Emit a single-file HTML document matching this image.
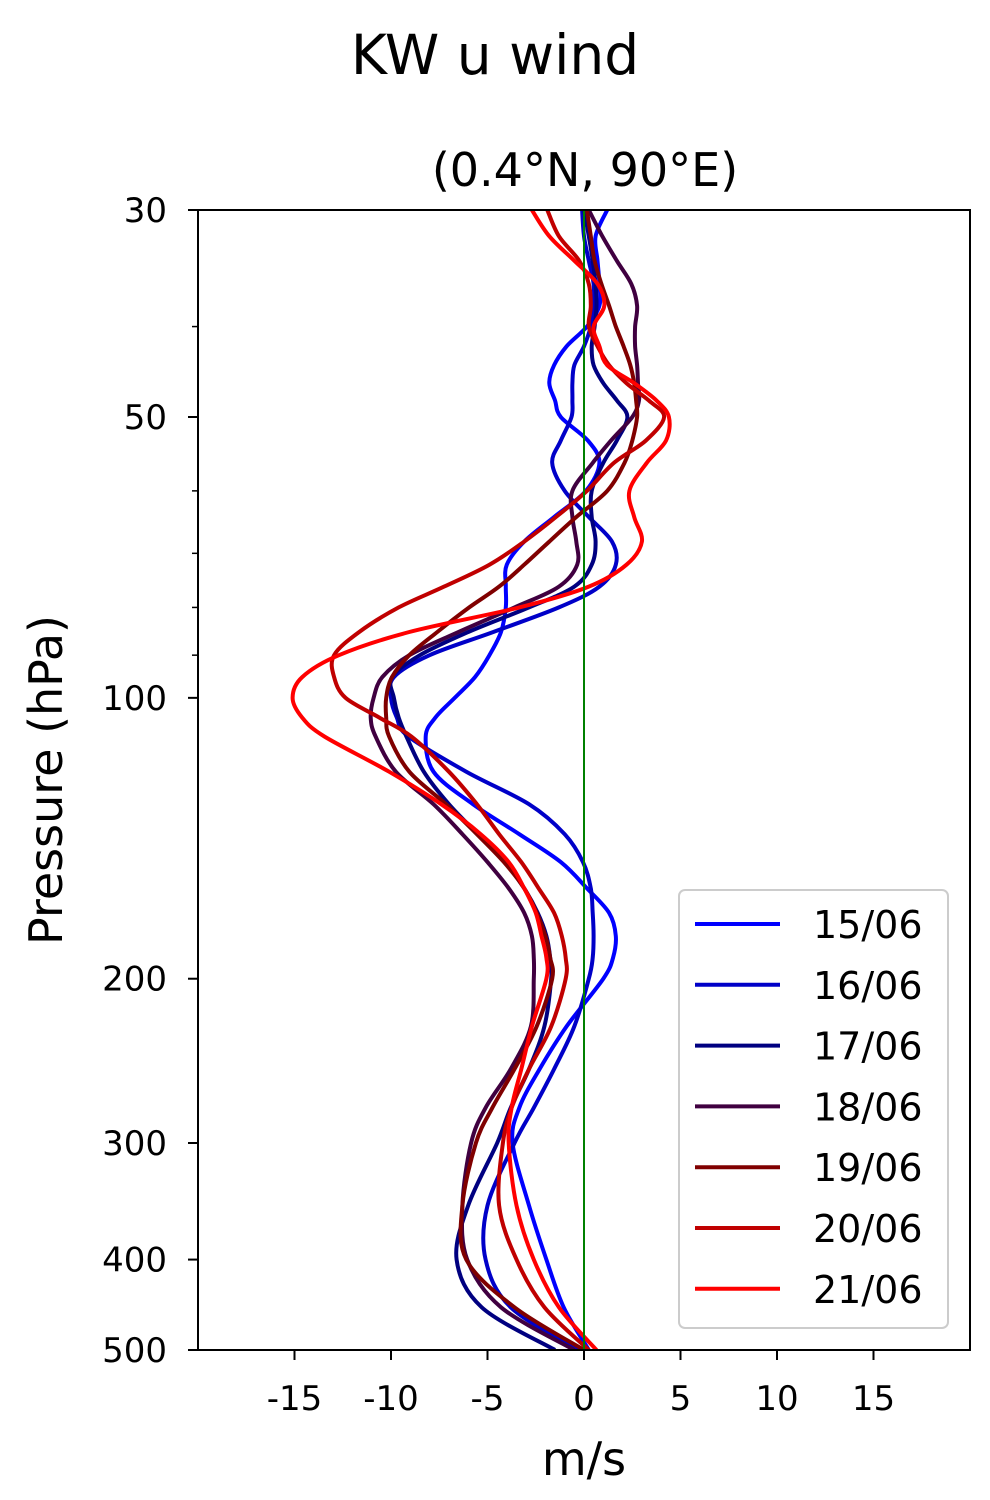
<!DOCTYPE html>
<html><head><meta charset="utf-8"><style>
html,body{margin:0;padding:0;background:#fff;}
svg{display:block;font-family:"DejaVu Sans","Liberation Sans",sans-serif;}
</style></head><body>
<svg id="chart" width="990" height="1500" viewBox="0 0 990 1500" xmlns="http://www.w3.org/2000/svg">
<rect width="990" height="1500" fill="#fff"/>
<text x="495" y="74" font-size="55" text-anchor="middle">KW u wind</text>
<text x="585" y="186" font-size="46" text-anchor="middle">(0.4°N, 90°E)</text>
<text transform="translate(62,780) rotate(-90)" font-size="46" text-anchor="middle">Pressure (hPa)</text>
<text x="584" y="1475" font-size="46" text-anchor="middle">m/s</text>
<g id="plot"></g>
</svg>
<script>
const pressures=[30,32,34,36,38,40,42,44,46,48,50,53,56,60,64,68,72,76,80,85,90,95,100,105,110,120,130,140,150,160,170,180,190,200,225,250,275,300,350,400,450,500];
const dates=["15/06","16/06","17/06","18/06","19/06","20/06","21/06"];
const u1506=[1.2,0.6,0.7,0.8,0.8,0.15,-0.9,-1.55,-1.8,-1.5,-1.2,0.2,0.8,0.1,-1.55,-3.1,-4.0,-4.05,-4.05,-4.3,-4.9,-5.65,-6.7,-7.7,-8.2,-7.8,-5.75,-3.35,-1.2,0.15,1.3,1.65,1.5,1.0,-0.9,-2.3,-3.35,-3.7,-2.85,-1.95,-1.05,0.25];
const u1606=[-0.1,0,0.25,0.5,0.5,0.35,0,-0.5,-0.6,-0.6,-0.65,-1.2,-1.65,-1.0,0.25,1.45,1.65,0.8,-1.3,-4.7,-8.0,-9.85,-10.0,-9.7,-9.1,-6.1,-2.85,-1.0,-0.05,0.35,0.45,0.5,0.45,0.25,-0.5,-1.55,-2.6,-3.6,-5.0,-5.1,-3.8,-0.25];
const u1706=[0,0.25,0.45,0.6,0.65,0.55,0.4,0.5,1.0,1.7,2.25,1.7,1.0,0.4,0.4,0.6,0.4,-0.5,-2.85,-6.0,-8.5,-9.95,-9.85,-9.6,-9.2,-8.3,-7.0,-5.5,-4.1,-3.1,-2.4,-1.95,-1.75,-1.7,-2.05,-2.85,-3.8,-4.5,-6.0,-6.6,-5.3,-1.5];
const u1806=[0.25,0.95,1.7,2.45,2.75,2.65,2.65,2.75,2.8,2.85,2.5,1.4,0.45,-0.6,-0.6,-0.4,-0.35,-1.3,-3.6,-6.5,-9.05,-10.45,-10.9,-11.05,-10.8,-9.75,-7.8,-6.3,-5.0,-3.9,-3.1,-2.7,-2.6,-2.6,-2.75,-3.8,-5.1,-5.85,-6.3,-6.05,-4.3,-0.5];
const u1906=[0.15,0.35,0.55,0.9,1.3,1.65,2.05,2.4,2.6,2.7,2.75,2.5,2.1,1.2,-0.4,-1.8,-3.1,-4.4,-5.95,-7.6,-9.05,-9.95,-10.25,-10.25,-10.1,-9.05,-7.15,-5.55,-4.15,-3.1,-2.45,-2.0,-1.75,-1.65,-2.45,-3.6,-4.75,-5.6,-6.3,-6.1,-3.6,0];
const u2006=[-1.9,-1.3,-0.25,0.25,0.35,0.25,0.7,1.3,2.2,3.35,4.15,3.2,1.55,0.15,-1.45,-3.1,-4.9,-7.25,-9.6,-11.65,-12.95,-12.95,-12.35,-10.6,-8.95,-7.0,-5.55,-4.4,-3.25,-2.35,-1.55,-1.15,-0.95,-0.95,-1.7,-2.85,-3.75,-4.2,-4.4,-3.5,-2.05,0.25];
const u2106=[-2.7,-1.8,-0.5,0.7,1.05,0.5,0.8,1.2,2.6,3.75,4.4,4.25,3.25,2.35,2.6,3.0,2.2,0.25,-3.35,-9.05,-12.7,-14.6,-15.1,-14.6,-13.45,-10.1,-7.4,-5.35,-3.9,-3.1,-2.5,-2.2,-1.95,-1.95,-2.7,-3.25,-3.75,-3.9,-3.5,-2.6,-1.3,0.65];
const xTicks=[-15,-10,-5,0,5,10,15];
const yMajorTicks=[30,50,100,200,300,400,500];
const yMinorTicks=[40,60,70,80,90];

const series=[u1506,u1606,u1706,u1806,u1906,u2006,u2106];
const colors=["#0000ff","#0000c8","#000080","#400040","#800000","#c00000","#ff0000"];
const L=198,R=970,T=210,B=1350;
const xMin=-20,xMax=20,pTop=30,pBot=500;
function xs(v){return L+(v-xMin)/(xMax-xMin)*(R-L);}
function ys(p){return T+Math.log10(p/pTop)/Math.log10(pBot/pTop)*(B-T);}
const NS="http://www.w3.org/2000/svg";
const g=document.getElementById('plot');
function mk(tag,attrs,parent){const e=document.createElementNS(NS,tag);for(const k in attrs)e.setAttribute(k,attrs[k]);(parent||g).appendChild(e);return e;}
function smoothPath(pts){
  let d='M'+pts[0][0].toFixed(1)+' '+pts[0][1].toFixed(1);
  for(let i=0;i<pts.length-1;i++){
    const p0=pts[Math.max(0,i-1)],p1=pts[i],p2=pts[i+1],p3=pts[Math.min(pts.length-1,i+2)];
    const c1=[p1[0]+(p2[0]-p0[0])/6,p1[1]+(p2[1]-p0[1])/6];
    const c2=[p2[0]-(p3[0]-p1[0])/6,p2[1]-(p3[1]-p1[1])/6];
    d+=' C'+c1[0].toFixed(1)+' '+c1[1].toFixed(1)+' '+c2[0].toFixed(1)+' '+c2[1].toFixed(1)+' '+p2[0].toFixed(1)+' '+p2[1].toFixed(1);
  }
  return d;
}

const clip=mk('clipPath',{id:'clip'});mk('rect',{x:L,y:T,width:R-L,height:B-T},clip);
const lines=mk('g',{'clip-path':'url(#clip)'});


series.forEach((s,i)=>{
  const pts=s.map((v,j)=>[xs(v),ys(pressures[j])]);
  const p=mk('path',{d:smoothPath(pts),fill:'none',stroke:colors[i],'stroke-width':4,'stroke-linejoin':'round'},lines);
  
  
});
const zl=mk('line',{x1:xs(0),x2:xs(0),y1:T,y2:B,stroke:'green','stroke-width':2});



const frame=mk('rect',{x:L,y:T,width:R-L,height:B-T,fill:'none',stroke:'#000','stroke-width':2});



xTicks.forEach(t=>{
  const x=xs(t);
  const tk=mk('line',{x1:x,x2:x,y1:B,y2:B+10,stroke:'#000','stroke-width':2});
  
  
  const tx=mk('text',{x:x,y:B+60,'font-size':34,'text-anchor':'middle'});
  tx.textContent=String(t);
  
  
});
yMajorTicks.forEach(p=>{
  const y=ys(p);
  const tk=mk('line',{x1:L-10,x2:L,y1:y,y2:y,stroke:'#000','stroke-width':2});
  
  
  const tx=mk('text',{x:L-31,y:y+12,'font-size':34,'text-anchor':'end'});
  tx.textContent=String(p);
  
  
});
yMinorTicks.forEach(p=>{
  const y=ys(p);
  const tk=mk('line',{x1:L-6,x2:L,y1:y,y2:y,stroke:'#000','stroke-width':1.5});
  
  
});

const lg=mk('g',{});


mk('rect',{x:679,y:890,width:269,height:438,rx:6,fill:'#fff','fill-opacity':0.8,stroke:'#ccc','stroke-width':2},lg);
dates.forEach((d,i)=>{
  const y=924+i*60.8;
  const e=mk('g',{},lg);
  
  
  mk('line',{x1:695,x2:780,y1:y,y2:y,stroke:colors[i],'stroke-width':4},e);
  const t=mk('text',{x:813,y:y+14,'font-size':38},e);
  t.textContent=d;
});
</script>
</body></html>
